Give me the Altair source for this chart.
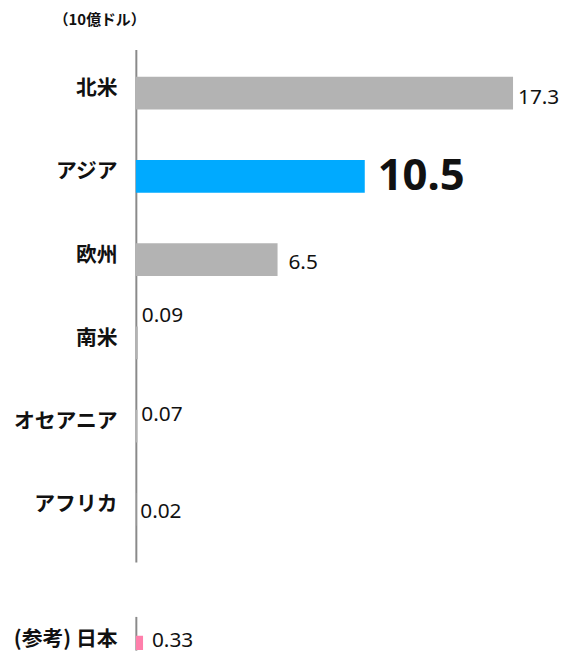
import altair as alt
import pandas as pd

regions = ["北米", "アジア", "欧州", "南米", "オセアニア", "アフリカ"]
values = [17.3, 10.5, 6.5, 0.09, 0.07, 0.02]
value_labels = ["17.3", "10.5", "6.5", "0.09", "0.07", "0.02"]
ref_regions = ["(参考) 日本"]
ref_values = [0.33]
ref_labels = ["0.33"]
unit_label = "（10億ドル）"
highlight = "アジア"

df = pd.DataFrame({"region": regions, "value": values, "label": value_labels})
jp = pd.DataFrame({"region": ref_regions, "value": ref_values, "label": ref_labels})

FONT = "Noto Sans CJK JP"
GRAY = "#b3b3b3"
BLUE = "#00aaff"
PINK = "#ff7fab"
AXIS_COLOR = "#8a8a8a"
W = 400
xscale = alt.Scale(domain=[0, W / 22.0], nice=False, zero=True)
X = alt.X("value:Q", scale=xscale, axis=None)


def yaxis(title=None, offset=-4):
    kw = dict(
        labelFont=FONT, labelFontSize=21, labelFontWeight="bold", labelColor="#111",
        labelPadding=19, labelLimit=300, ticks=False, grid=False,
        domainColor=AXIS_COLOR, domainWidth=2, labelOffset=offset,
        minExtent=125, maxExtent=125,
    )
    if title is not None:
        kw.update(title=title, titleAngle=0, titleX=-37, titleY=-30, titleAlign="center",
                  titleBaseline="middle", titleFont=FONT, titleFontSize=15,
                  titleFontWeight="bold", titleColor="#111")
    else:
        kw.update(title=None)
    return alt.Axis(**kw)


Y = alt.Y("region:N", sort=regions,
          scale=alt.Scale(paddingInner=0, paddingOuter=0.077, align=0.15),
          axis=yaxis(unit_label))

base = alt.Chart(df).encode(x=X, y=Y)
bars = base.mark_bar(size=33).encode(
    color=alt.condition(alt.datum.region == highlight, alt.value(BLUE), alt.value(GRAY))
)

label_style = {
    "北米": dict(dx=5, dy=5, fontSize=21, fontWeight="normal"),
    "アジア": dict(dx=13, dy=1, fontSize=44, fontWeight="bold"),
    "欧州": dict(dx=11, dy=3, fontSize=21, fontWeight="normal"),
    "南米": dict(dx=4, dy=-27, fontSize=21, fontWeight="normal"),
    "オセアニア": dict(dx=4, dy=-11, fontSize=21, fontWeight="normal"),
    "アフリカ": dict(dx=4, dy=3, fontSize=21, fontWeight="normal"),
}
text_layers = []
for r in regions:
    s = label_style[r]
    text_layers.append(
        base.transform_filter(alt.datum.region == r).mark_text(
            align="left", baseline="middle", font="Noto Sans", color="#111", **s
        ).encode(text="label:N")
    )

main = alt.layer(bars, *text_layers).properties(width=W, height=517)

Yj = alt.Y("region:N", sort=ref_regions,
           scale=alt.Scale(paddingInner=0, paddingOuter=0),
           axis=yaxis(None, offset=7))
jbase = alt.Chart(jp).encode(x=X, y=Yj)
jbars = jbase.mark_bar(size=33, color=PINK, yOffset=19, clip=True)
jtext = jbase.mark_text(align="left", baseline="middle", dx=9, dy=8, fontSize=21,
                        font="Noto Sans", color="#111").encode(text="label:N")
japan = alt.layer(jbars, jtext).properties(width=W, height=34)

chart = alt.vconcat(main, japan, spacing=55).properties(
    padding={"left": 4, "top": 2, "right": 0, "bottom": 0}
).configure_view(strokeWidth=0, stroke=None)

chart.save("out.html", embed_options={"renderer": "svg", "actions": False})
